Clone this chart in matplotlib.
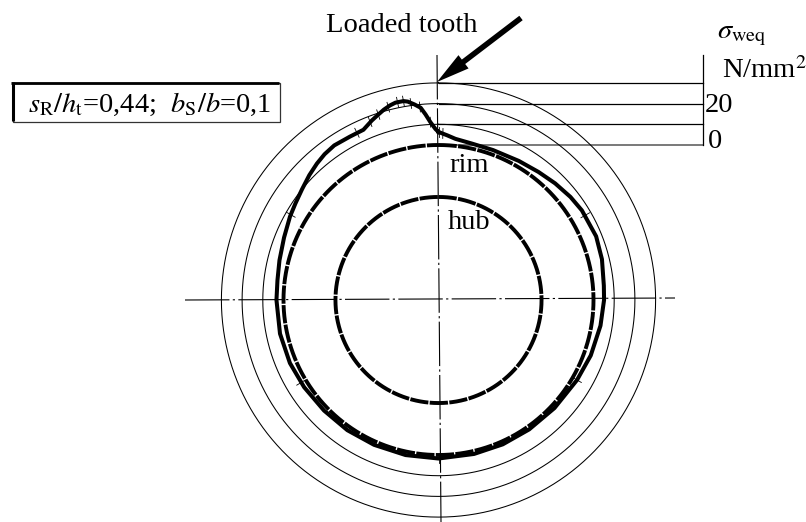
import numpy as np
import matplotlib
matplotlib.use("Agg")
import matplotlib.pyplot as plt
from matplotlib.patches import Rectangle

plt.rcParams['font.family'] = ['Liberation Serif', 'DejaVu Serif']
plt.rcParams['mathtext.fontset'] = 'stix'

# Stress curve: angle clockwise from loaded tooth (deg), sigma_weq (N/mm2)
curve_angle = [0, 3, 6, 12, 20, 30, 38, 45, 52, 58, 68, 76, 85, 90, 99, 110, 120, 133, 145, 156, 167, 180,
               192, 204, 215, 226, 237, 247, 258, 270, 277, 284, 292, 299.3, 304, 309, 314, 318.3, 322,
               326, 331.5, 336.2, 339.6, 342, 344, 346, 347.7, 350, 351.2, 353, 354.7, 356, 357.4, 359, 360]
curve_sigma = [6.3, 4.8, 3.4, 2.4, 2.2, 2.7, 3.6, 4.8, 6.0, 6.8, 7.25, 6.5, 5.3, 5.1, 4.35, 3.4, 2.4, 1.7, 1.45, 1.45, 1.45, 1.7,
               1.7, 1.7, 1.9, 2.0, 2.5, 3.1, 3.4, 3.4, 3.5, 4.3, 5.6, 7.4, 8.5, 10.0, 11.9, 13.4, 14.5,
               15.2, 14.9, 15.0, 17.6, 19.3, 20.8, 22.0, 22.7, 22.7, 22.1, 20.3, 18.4, 15.0, 11.1, 7.7, 6.3]
tick_angle = [0, 60, 120, 180, 239, 300, 334, 339, 342, 345.4, 348.3, 350, 352, 354.5, 357.4, 1.5]
tick_sigma = [6.3, 7.0, 2.4, 1.7, 2.6, 7.5, 15.0, 17.3, 19.3, 21.4, 22.7, 22.7, 21.0, 18.8, 11.1, 5.6]

scale_rings = [10, 20, 30]      # N/mm2
rim_sigma = 0
hub_sigma = -25.1

W, H = 806, 522
CX, CY = 438.5, 300.0
PX = 2.07                        # px per N/mm2
R0 = 155 / PX
RMAX = 35.0

fig = plt.figure(figsize=(W / 100, H / 100), dpi=100)
ax = fig.add_axes([0, 0, 1, 1])
ax.set_xlim(0, W)
ax.set_ylim(H, 0)
ax.axis('off')

Rp = (RMAX + R0) * PX
pax = fig.add_axes([(CX - Rp) / W, (H - CY - Rp) / H, 2 * Rp / W, 2 * Rp / H],
                   projection='polar')
pax.set_theta_zero_location('N')
pax.set_theta_direction(-1)
pax.set_rorigin(-R0)
pax.set_rlim(-R0, RMAX)
pax.axis('off')
pax.patch.set_alpha(0)

th = np.linspace(0, 2 * np.pi, 721)
for s in scale_rings:
    pax.plot(th, np.full_like(th, s), color='black', lw=0.75)
pax.plot(th, np.full_like(th, rim_sigma), color='black', lw=2.8,
         ls=(0, (4.7, 0.35)), dash_capstyle='butt')
pax.plot(th, np.full_like(th, hub_sigma), color='black', lw=2.8,
         ls=(0, (4.7, 0.35)), dash_capstyle='butt')
pax.plot(np.deg2rad(curve_angle), curve_sigma, color='black', lw=2.9,
         solid_joinstyle='round')
for a, s in zip(tick_angle, tick_sigma):
    pax.plot(np.deg2rad([a, a]), [s - 2.4, s + 2.4], color='black', lw=0.6)

# centre lines
cl = dict(color='black', lw=0.8, ls=(0, (40, 3, 2, 3)))
ax.plot([437, 441], [55, 522], **cl)
ax.plot([185, 675], [300, 298], **cl)

# stress scale
for s in scale_rings:
    y = CY - (155 + s * PX)
    ax.plot([CX, 703], [y, y], color='black', lw=0.9)
y0 = CY - 155
ax.plot([CX, 703], [y0, y0], color='#555555', lw=1.1)
ax.plot([703, 703], [55, y0], color='black', lw=0.9)

fs = 20.5
tx = dict(fontsize=fs, va='baseline', ha='left')
ax.text(705, 112.5, "20", **tx)
ax.text(708, 148, "0", **tx)
ax.text(717, 38, r"$\sigma_{\mathrm{weq}}$", **tx)
ax.text(722, 78, r"N/mm$^{2}$", **tx)
ax.text(326, 32, "Loaded tooth", **tx)
ax.text(449, 172.5, "rim", **tx)
ax.text(448, 229, "hub", **tx)

# arrow to the loaded tooth
ax.annotate("", xy=(437, 82), xytext=(521, 18),
            arrowprops=dict(facecolor='black', edgecolor='black', width=4,
                            headwidth=12, headlength=24, shrink=0, lw=0))

# parameter box
ax.add_patch(Rectangle((13, 83), 267, 39, fc='white', ec='#333333', lw=0.9))
ax.plot([12.5, 12.5], [82, 121], color='black', lw=2.2, solid_capstyle='butt')
ax.plot([11, 279], [83, 83], color='black', lw=2.0, solid_capstyle='butt')
ax.text(28, 112, r"$s_{\mathrm{R}}/h_{\mathrm{t}}$=0,44;  $b_{\mathrm{S}}/b$=0,1", **tx)

fig.savefig("out.png", dpi=100)
